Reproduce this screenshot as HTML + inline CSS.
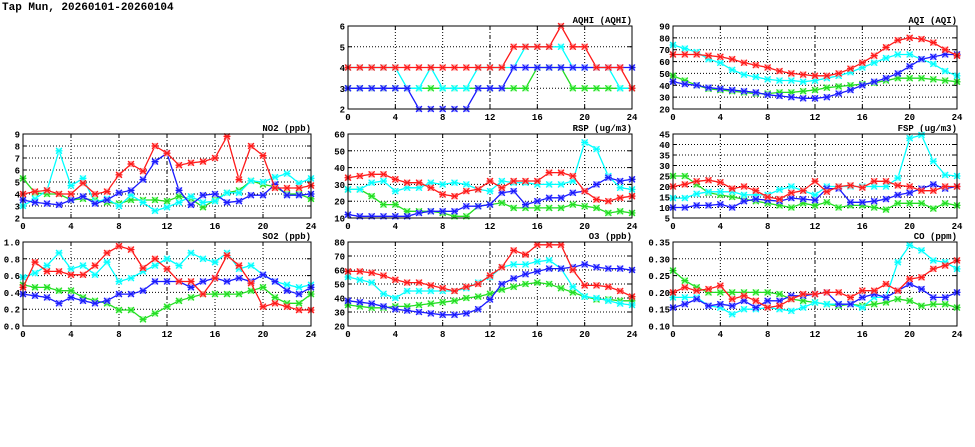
<!DOCTYPE html>
<html><head><meta charset="utf-8"><style>
html,body{margin:0;padding:0;background:#fff;}
svg{display:block;font-family:"Liberation Mono","DejaVu Sans Mono",monospace;}
</style></head><body>
<svg id="c" width="975" height="447" viewBox="0 0 975 447" xmlns="http://www.w3.org/2000/svg">
<text x="2" y="10" font-size="11" font-weight="bold">Tap Mun, 20260101-20260104</text>
</svg>
<script>
const hours=[0,1,2,3,4,5,6,7,8,9,10,11,12,13,14,15,16,17,18,19,20,21,22,23,24];
const xTicks=[0,4,8,12,16,20,24];
const aqhiRed=[4,4,4,4,4,4,4,4,4,4,4,4,4,4,5,5,5,5,6,5,5,4,4,4,3];
const aqhiCyan=[4,4,4,4,4,3,3,4,3,3,3,4,4,4,4,5,5,5,5,4,4,4,4,3,3];
const aqhiGreen=[3,3,3,3,3,3,3,3,3,3,3,3,3,3,3,3,4,4,4,3,3,3,3,3,3];
const aqhiBlue=[3,3,3,3,3,3,2,2,2,2,2,3,3,3,4,4,4,4,4,4,4,4,4,4,4];
const aqiRed=[66,66,66,65,64,62,59,57,55,52,50,49,48,48,50,54,59,65,72,78,80,79,76,70,65];
const aqiCyan=[74,71,68,62,59,53,49,47,45,44,44,43,44,46,48,51,55,59,63,66,66,62,58,52,48];
const aqiGreen=[48,44,40,37,36,35,34,33,33,34,34,35,36,38,39,40,41,42,44,46,46,46,45,44,43];
const aqiBlue=[43,41,40,38,37,36,35,34,32,31,30,29,29,30,33,36,40,43,46,50,56,62,64,66,66];
const no2Red=[4.0,4.2,4.3,4.0,4.0,4.9,4.0,4.2,5.6,6.5,5.9,8.0,7.4,6.4,6.6,6.7,7.0,8.8,5.2,8.0,7.2,4.5,4.5,4.5,4.7];
const no2Cyan=[3.0,3.6,4.3,7.6,4.7,5.3,3.3,3.6,3.0,3.9,3.3,2.6,2.9,3.3,3.8,3.3,3.4,4.1,4.1,5.1,5.0,5.4,5.7,4.9,5.3];
const no2Green=[5.3,4.1,4.0,4.0,3.5,3.6,3.5,3.3,3.2,3.5,3.5,3.5,3.4,3.8,3.6,2.9,3.5,4.1,4.3,5.1,4.8,4.6,4.0,4.0,3.6];
const no2Blue=[3.5,3.3,3.2,3.1,3.5,3.8,3.2,3.5,4.1,4.3,5.2,6.7,7.4,4.3,3.1,3.9,4.0,3.3,3.4,3.9,3.9,4.8,3.9,3.9,4.0];
const rspRed=[34,35,36,36,33,31,31,28,24,23,26,27,32,28,32,32,32,37,37,35,26,21,20,22,23];
const rspCyan=[27,27,31,32,26,28,28,31,30,31,30,27,26,32,31,31,30,30,30,32,55,51,35,28,27];
const rspGreen=[27,27,23,18,18,14,14,14,13,11,11,17,18,19,16,16,16,16,16,18,17,16,13,14,13];
const rspBlue=[12,11,11,11,11,11,13,14,14,14,17,17,18,25,26,18,20,22,22,25,26,30,34,32,33];
const fspRed=[20,21,22.5,23,22,19,20,18,15,14,17,18,22.5,17.5,20,20.5,19.5,22.5,22.5,20.5,20,18,18,20,20];
const fspCyan=[14.5,14.5,16.5,17.5,17.5,17.5,16,16,16,18.5,20,18,16,20,20,20,20,20,20,24,43,44.5,32,25.5,25];
const fspGreen=[25,25,21,17,16,15,14,13,12,11,10,12,11,12.5,10,11,11,10,9,12,12,12,9.5,12,11];
const fspBlue=[10,10,11,11,11.5,10,13,14,13.5,13,14.5,14,13.5,19,19,12.5,12.5,13,14,16,17,19,21,19,20];
const so2Red=[0.46,0.76,0.65,0.65,0.61,0.61,0.72,0.87,0.95,0.91,0.69,0.80,0.68,0.53,0.53,0.38,0.57,0.84,0.72,0.51,0.23,0.27,0.23,0.19,0.19];
const so2Cyan=[0.58,0.63,0.72,0.87,0.68,0.72,0.61,0.76,0.53,0.57,0.65,0.72,0.80,0.72,0.87,0.80,0.76,0.87,0.68,0.72,0.61,0.53,0.49,0.46,0.49];
const so2Green=[0.49,0.46,0.46,0.42,0.42,0.34,0.30,0.27,0.19,0.19,0.08,0.15,0.23,0.30,0.34,0.38,0.38,0.38,0.38,0.42,0.46,0.34,0.27,0.27,0.38];
const so2Blue=[0.38,0.36,0.34,0.27,0.34,0.30,0.27,0.30,0.38,0.38,0.42,0.53,0.53,0.53,0.46,0.53,0.57,0.53,0.57,0.53,0.61,0.53,0.42,0.38,0.46];
const o3Red=[59,59,58,56,53,51,51,49,47,45,48,50,56,62,74,71,78,78,78,60,49,49,48,45,41];
const o3Cyan=[55,53,51,43,40,45,45,45,45,45,47,51,55,62,64,64,66,67,61,48,41,40,38,36,35];
const o3Green=[35,34,33,33,34,34,35,36,37,38,40,41,43,46,48,50,51,50,47,44,41,39,39,38,38];
const o3Blue=[38,37,36,34,32,31,30,29,28,28,29,32,39,50,54,57,59,61,61,62,64,62,61,61,60];
const coRed=[.20,.215,.205,.21,.22,.18,.19,.175,.155,.16,.18,.195,.195,.20,.20,.185,.205,.205,.225,.205,.24,.245,.27,.28,.295];
const coCyan=[.185,.185,.185,.16,.155,.135,.15,.15,.155,.15,.145,.155,.17,.165,.165,.165,.155,.185,.185,.29,.34,.325,.295,.29,.27];
const coGreen=[.265,.235,.215,.20,.20,.20,.20,.20,.20,.195,.18,.175,.17,.165,.16,.165,.16,.165,.17,.18,.175,.16,.165,.165,.155];
const coBlue=[.155,.165,.18,.16,.165,.16,.175,.155,.175,.175,.19,.19,.195,.20,.165,.165,.185,.195,.185,.205,.225,.21,.185,.185,.20];
const aqhiTicks=[2,3,4,5,6];
const aqiTicks=[20,30,40,50,60,70,80,90];
const no2Ticks=[2,3,4,5,6,7,8,9];
const rspTicks=[10,20,30,40,50,60];
const fspTicks=[5,10,15,20,25,30,35,40,45];
const so2Ticks=[0.0,0.2,0.4,0.6,0.8,1.0];
const o3Ticks=[20,30,40,50,60,70,80];
const coTicks=[0.10,0.15,0.20,0.25,0.30,0.35];

const svg=document.getElementById('c');
const NS='http://www.w3.org/2000/svg';
function mk(tag,attrs,parent){const e=document.createElementNS(NS,tag);for(const k in attrs)e.setAttribute(k,attrs[k]);(parent||svg).appendChild(e);return e;}
const colors={red:'#ff1a1a',cyan:'#00ffff',green:'#22dd22',blue:'#1a1aff'};
const light={red:'#ff9999',cyan:'#99ffff',green:'#99ff99',blue:'#9999ff'};

function panel(key,title,x0,x1,y0,y1,ticks,dec,series){
  const g=mk('g',{});
  
  
  const ymin=ticks[0],ymax=ticks[ticks.length-1];
  const X=h=>x0+(h-0)/(24-0)*(x1-x0);
  const Y=v=>y1-(v-ymin)/(ymax-ymin)*(y1-y0);
  ticks.forEach((t,i)=>{
    if(i>0&&i<ticks.length-1){const l=mk('line',{x1:x0,x2:x1,y1:Y(t),y2:Y(t),stroke:'#000','stroke-width':1,'stroke-dasharray':'1,2'},g);
    }
    mk('line',{x1:x0,x2:x0+4,y1:Y(t),y2:Y(t),stroke:'#000'},g);
    mk('line',{x1:x1-4,x2:x1,y1:Y(t),y2:Y(t),stroke:'#000'},g);
    const tx=mk('text',{x:x0-3,y:Y(t)+3.5,'font-size':9,'font-weight':'bold','text-anchor':'end'},g);
    tx.textContent=t.toFixed(dec);
    
    
  });
  xTicks.forEach((t,i)=>{
    if(i>0&&i<xTicks.length-1){const l=mk('line',{x1:X(t),x2:X(t),y1:y0,y2:y1,stroke:'#000','stroke-width':1,'stroke-dasharray':t===12?'4,2,1,2':'1,2'},g);
    }
    mk('line',{x1:X(t),x2:X(t),y1:y1-4,y2:y1,stroke:'#000'},g);
    mk('line',{x1:X(t),x2:X(t),y1:y0,y2:y0+4,stroke:'#000'},g);
    const tx=mk('text',{x:X(t),y:y1+11,'font-size':9,'font-weight':'bold','text-anchor':'middle'},g);
    tx.textContent=t;
    
    
  });
  const tt=mk('text',{x:x1,y:y0-3,'font-size':9,'font-weight':'bold','text-anchor':'end'},g);
  tt.textContent=title;
  
  
  const clip='clip-'+key;
  const cp=mk('clipPath',{id:clip},g);mk('rect',{x:x0-4,y:y0-4,width:x1-x0+8,height:y1-y0+8},cp);
  series.forEach(([cname,vals])=>{
    const sg=mk('g',{'clip-path':'url(#'+clip+')'},g);
    
    
    const pts=vals.map((v,i)=>X(hours[i]).toFixed(1)+','+Y(v).toFixed(1)).join(' ');
    const pl=mk('polyline',{points:pts,fill:'none',stroke:colors[cname],'stroke-width':1.3},sg);
    
    
    vals.forEach((v,i)=>{
      const cx=X(hours[i]),cy=Y(v);
      const m=mk('g',{},sg);
      
      
      mk('rect',{x:cx-3,y:cy-3,width:6,height:6,fill:light[cname],opacity:0.8},m);
      mk('path',{d:`M${cx-3},${cy-3}L${cx+3},${cy+3}M${cx-3},${cy+3}L${cx+3},${cy-3}M${cx-3.5},${cy}L${cx+3.5},${cy}`,stroke:colors[cname],'stroke-width':1.2},m);
    });
  });
  const fr=mk('rect',{x:x0,y:y0,width:x1-x0,height:y1-y0,fill:'none',stroke:'#000','stroke-width':1},g);
  
  
}
panel('aqhi','AQHI (AQHI)',348,632,26,109,aqhiTicks,0,[['green',aqhiGreen],['cyan',aqhiCyan],['blue',aqhiBlue],['red',aqhiRed]]);
panel('aqi','AQI (AQI)',673,957,26,109,aqiTicks,0,[['green',aqiGreen],['cyan',aqiCyan],['blue',aqiBlue],['red',aqiRed]]);
panel('no2','NO2 (ppb)',23,311,134,218,no2Ticks,0,[['green',no2Green],['cyan',no2Cyan],['blue',no2Blue],['red',no2Red]]);
panel('rsp','RSP (ug/m3)',348,632,134,218,rspTicks,0,[['green',rspGreen],['cyan',rspCyan],['blue',rspBlue],['red',rspRed]]);
panel('fsp','FSP (ug/m3)',673,957,134,218,fspTicks,0,[['green',fspGreen],['cyan',fspCyan],['blue',fspBlue],['red',fspRed]]);
panel('so2','SO2 (ppb)',23,311,242,326,so2Ticks,1,[['green',so2Green],['cyan',so2Cyan],['blue',so2Blue],['red',so2Red]]);
panel('o3','O3 (ppb)',348,632,242,326,o3Ticks,0,[['green',o3Green],['cyan',o3Cyan],['blue',o3Blue],['red',o3Red]]);
panel('co','CO (ppm)',673,957,242,326,coTicks,2,[['green',coGreen],['cyan',coCyan],['blue',coBlue],['red',coRed]]);
</script>
</body></html>
